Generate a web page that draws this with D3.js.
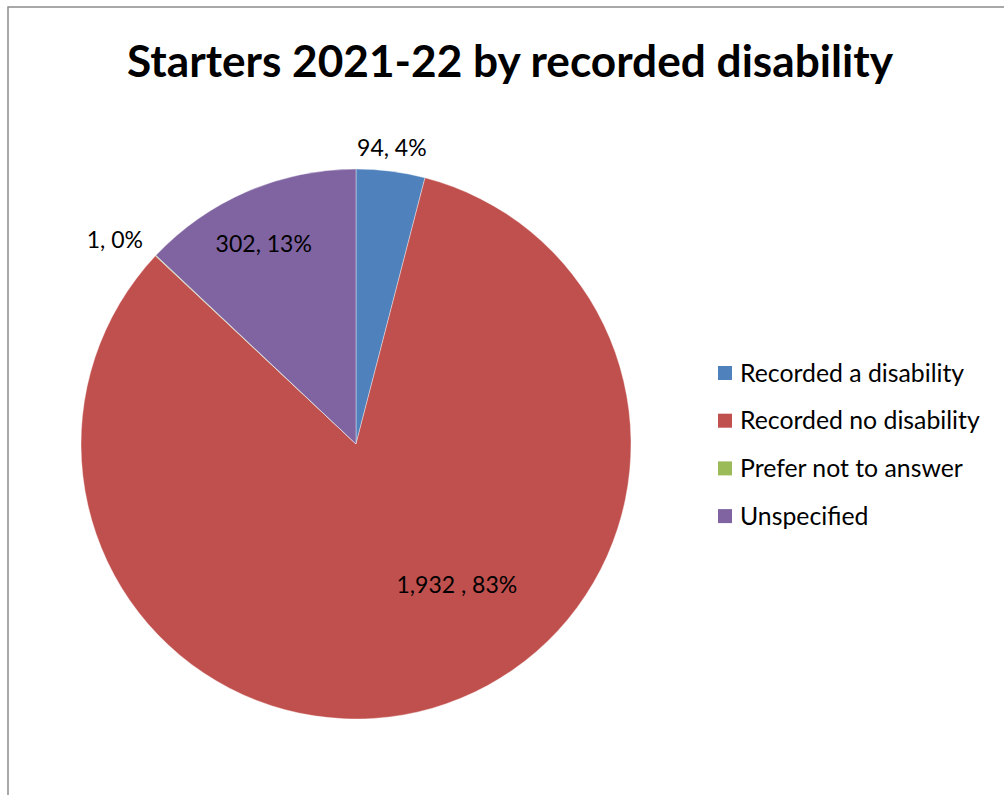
<!DOCTYPE html>
<html><head><meta charset="utf-8">
<script src="https://cdn.jsdelivr.net/npm/d3@7"></script>
<style>body{margin:0;background:#fff}svg{display:block}</style>
</head><body>
<svg id="c" width="1004" height="795"></svg>
<script>
const title = "Starters 2021-22 by recorded disability";
const categories = ["Recorded a disability","Recorded no disability","Prefer not to answer","Unspecified"];
const values = [94, 1932, 1, 302];
const labels = ["94, 4%","1,932 , 83%","1, 0%","302, 13%"];
const colors = ["#4f81bd","#c0504d","#9bbb59","#8064a2"];
// label placement: [angle from 12 o'clock in degrees, radius as fraction of pie radius]
const labelPlace = [[6.9,1.085],[144.4,0.63],[310.3,1.15],[335.2,0.80]];

const svg = d3.select("#c");
const W = 1004, H = 795;
const font = "Lato, 'Open Sans', sans-serif";

svg.append("rect").attr("x",8).attr("y",7).attr("width",W).attr("height",H)
  .attr("fill","#fff").attr("stroke","#8c8c8c").attr("stroke-width",1.5);

svg.append("text").attr("x",510).attr("y",77).attr("text-anchor","middle")
  .attr("font-family",font).attr("font-weight","bold").attr("font-size",44.2)
  .attr("fill","#000").text(title);

const cx = 356, cy = 444, R = 275;
const g = svg.append("g").attr("transform",`translate(${cx},${cy})`);
const pie = d3.pie().sort(null).value(d=>d)(values);
const arc = d3.arc().innerRadius(0).outerRadius(R);
g.selectAll("path").data(pie).join("path")
  .attr("d",arc).attr("fill",(d,i)=>colors[i])
  .attr("stroke","#ffffff").attr("stroke-opacity",0.5).attr("stroke-width",0.75);

g.selectAll("text.lab").data(pie).join("text").attr("class","lab")
  .attr("x",(d,i)=>Math.sin(labelPlace[i][0]*Math.PI/180)*labelPlace[i][1]*R)
  .attr("y",(d,i)=>-Math.cos(labelPlace[i][0]*Math.PI/180)*labelPlace[i][1]*R)
  .attr("dy","0.35em").attr("text-anchor","middle")
  .attr("font-family",font).attr("font-size",23).attr("fill","#000")
  .text((d,i)=>labels[i]);

const lg = svg.append("g").attr("transform","translate(718,373)");
const row = lg.selectAll("g").data(categories).join("g")
  .attr("transform",(d,i)=>`translate(0,${i*47.7})`);
row.append("rect").attr("x",0).attr("y",-7).attr("width",14).attr("height",14)
  .attr("fill",(d,i)=>colors[i]);
row.append("text").attr("x",22).attr("y",0).attr("dy","0.35em")
  .attr("font-family",font).attr("font-size",24.8).attr("fill","#000").text(d=>d);
</script>
</body></html>
